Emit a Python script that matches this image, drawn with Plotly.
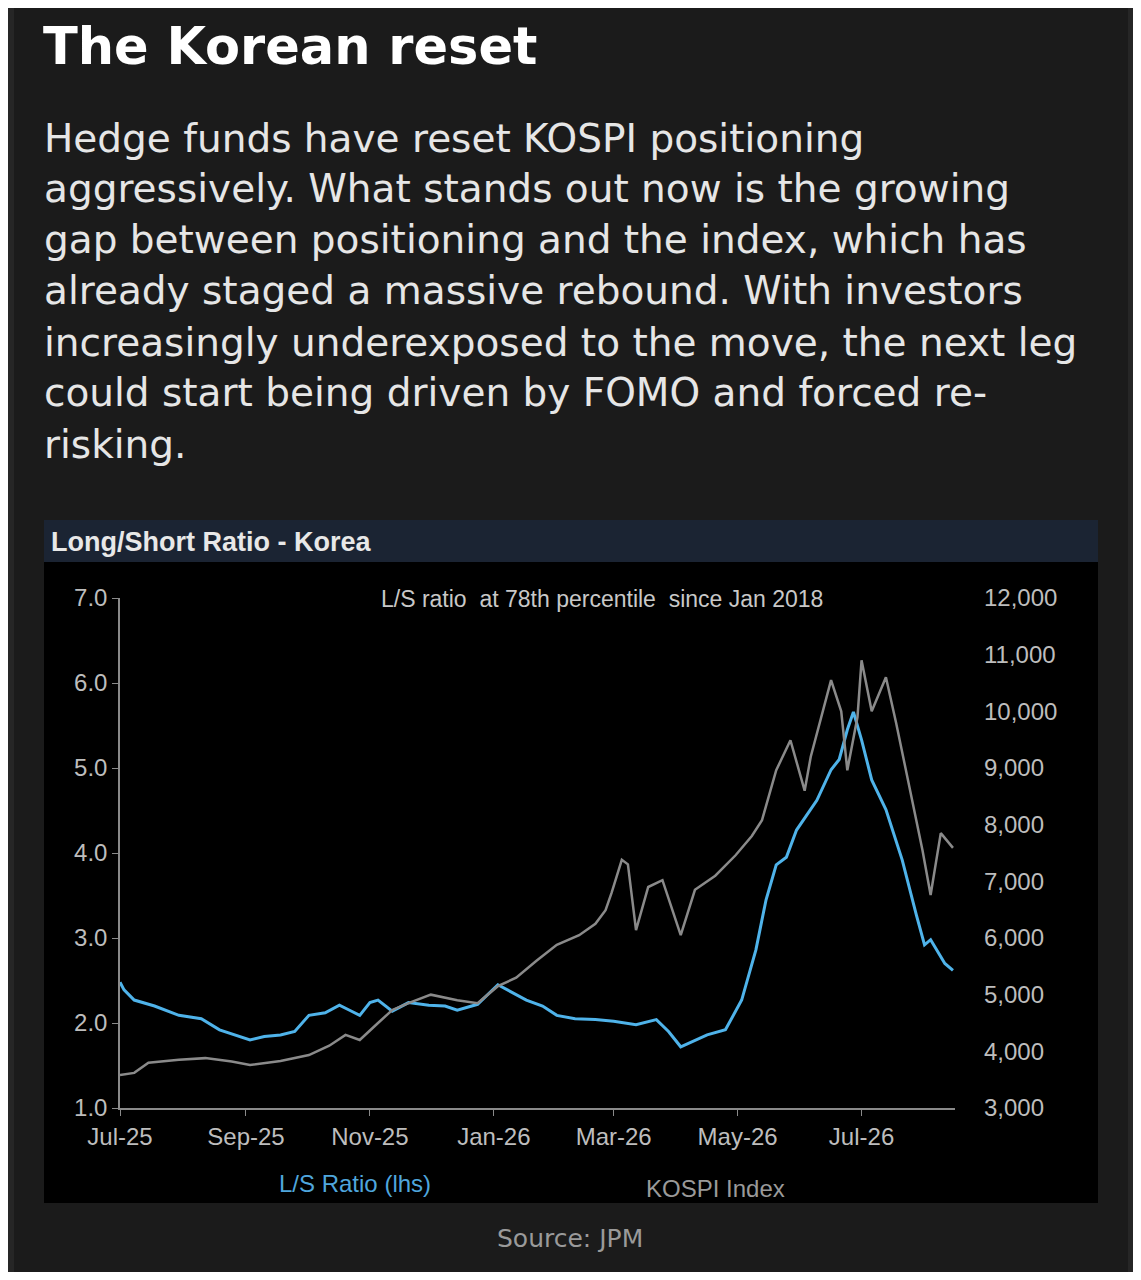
import plotly.graph_objects as go

W, H = 1125, 1264   # page is 1141x1280 with an 8px body margin
OFF = 8

ls_dates = ["2025-07-01","2025-07-03","2025-07-08","2025-07-18","2025-07-30","2025-08-10","2025-08-19","2025-08-27","2025-09-03","2025-09-10","2025-09-18","2025-09-25","2025-10-02","2025-10-10","2025-10-17","2025-10-22","2025-10-27","2025-11-01","2025-11-05","2025-11-12","2025-11-20","2025-11-30","2025-12-08","2025-12-14","2025-12-24","2026-01-03","2026-01-10","2026-01-17","2026-01-25","2026-02-01","2026-02-10","2026-02-20","2026-03-01","2026-03-12","2026-03-22","2026-03-28","2026-04-03","2026-04-10","2026-04-16","2026-04-25","2026-05-03","2026-05-10","2026-05-15","2026-05-20","2026-05-25","2026-05-30","2026-06-04","2026-06-09","2026-06-16","2026-06-20","2026-06-24","2026-06-27","2026-07-01","2026-07-06","2026-07-13","2026-07-21","2026-07-28","2026-08-01","2026-08-04","2026-08-07","2026-08-11","2026-08-15"]
ls_values = [2.48,2.39,2.27,2.20,2.09,2.05,1.92,1.86,1.80,1.84,1.86,1.90,2.09,2.12,2.21,2.15,2.09,2.24,2.27,2.14,2.24,2.21,2.20,2.15,2.22,2.45,2.36,2.27,2.20,2.09,2.05,2.04,2.02,1.98,2.04,1.90,1.72,1.80,1.86,1.92,2.27,2.86,3.45,3.86,3.95,4.27,4.45,4.62,4.98,5.10,5.45,5.66,5.33,4.86,4.51,3.92,3.27,2.92,2.98,2.86,2.70,2.62]

ks_dates = ["2025-07-01","2025-07-08","2025-07-15","2025-07-30","2025-08-12","2025-08-25","2025-09-03","2025-09-18","2025-10-02","2025-10-12","2025-10-20","2025-10-27","2025-11-05","2025-11-12","2025-11-20","2025-12-01","2025-12-14","2025-12-24","2026-01-03","2026-01-12","2026-01-22","2026-02-01","2026-02-12","2026-02-20","2026-02-25","2026-02-28","2026-03-05","2026-03-08","2026-03-12","2026-03-18","2026-03-25","2026-04-03","2026-04-10","2026-04-20","2026-04-30","2026-05-08","2026-05-13","2026-05-20","2026-05-27","2026-06-03","2026-06-06","2026-06-11","2026-06-16","2026-06-21","2026-06-24","2026-06-29","2026-07-01","2026-07-06","2026-07-13","2026-07-18","2026-07-26","2026-07-28","2026-07-31","2026-08-04","2026-08-09","2026-08-15"]
ks_values = [3580,3620,3800,3850,3880,3820,3760,3830,3935,4100,4290,4200,4500,4730,4850,5000,4900,4850,5150,5300,5600,5880,6050,6250,6490,6800,7380,7300,6140,6900,7020,6050,6850,7100,7460,7800,8080,8960,9490,8600,9200,9850,10550,10000,8960,9900,10900,10000,10600,9800,8440,8100,7550,6760,7850,7590]

x_ticks = ["2025-07-01","2025-09-01","2025-11-01","2026-01-01","2026-03-01","2026-05-01","2026-07-01"]
x_labels = ["Jul-25","Sep-25","Nov-25","Jan-26","Mar-26","May-26","Jul-26"]
left_ticks = [1,2,3,4,5,6,7]
right_ticks = [3000,4000,5000,6000,7000,8000,9000,10000,11000,12000]

title = "The Korean reset"
body = ["Hedge funds have reset KOSPI positioning",
        "aggressively. What stands out now is the growing",
        "gap between positioning and the index, which has",
        "already staged a massive rebound. With investors",
        "increasingly underexposed to the move, the next leg",
        "could start being driven by FOMO and forced re-",
        "risking."]

def px(x): return (x - OFF) / W
def py(y): return 1 - (y - OFF) / H

fig = go.Figure()
fig.add_trace(go.Scatter(x=ks_dates, y=ks_values, yaxis="y2", mode="lines",
                         line=dict(color="#8a8a8a", width=2.5), name="KOSPI Index"))
fig.add_trace(go.Scatter(x=ls_dates, y=ls_values, mode="lines",
                         line=dict(color="#4fb3ea", width=3), name="L/S Ratio (lhs)"))

shapes = [
    dict(type="rect", xref="paper", yref="paper", x0=px(8), x1=px(14), y0=0, y1=1, fillcolor="#262626", line_width=0, layer="below"),
    dict(type="rect", xref="paper", yref="paper", x0=px(1128), x1=1, y0=0, y1=1, fillcolor="#262626", line_width=0, layer="below"),
    dict(type="rect", xref="paper", yref="paper", x0=px(44), x1=px(1098), y0=py(1203), y1=py(520), fillcolor="#000000", line_width=0, layer="below"),
    dict(type="rect", xref="paper", yref="paper", x0=px(44), x1=px(1098), y0=py(562), y1=py(520), fillcolor="#1b2433", line_width=0, layer="below"),
]

ann = [dict(text="<b>" + title + "</b>", x=px(41), y=py(46), xref="paper", yref="paper", xanchor="left", yanchor="middle",
            showarrow=False, font=dict(family="DejaVu Sans", size=51, color="#ffffff"))]
for i, line in enumerate(body):
    ann.append(dict(text=line, x=px(42), y=py(138 + i * 51), xref="paper", yref="paper", xanchor="left", yanchor="middle",
                    showarrow=False, font=dict(family="DejaVu Sans", size=39, color="#e6e6e6")))
ann += [
    dict(text="<b>Long/Short Ratio - Korea</b>", x=px(49), y=py(542), xref="paper", yref="paper", xanchor="left", yanchor="middle",
         showarrow=False, font=dict(family="Liberation Sans", size=27, color="#e8e8e8")),
    dict(text="L/S ratio  at 78th percentile  since Jan 2018", x=px(602), y=py(599), xref="paper", yref="paper", xanchor="center", yanchor="middle",
         showarrow=False, font=dict(family="Liberation Sans", size=23, color="#c8c8c8")),
    dict(text="L/S Ratio (lhs)", x=px(355), y=py(1183), xref="paper", yref="paper", xanchor="center", yanchor="middle",
         showarrow=False, font=dict(family="Liberation Sans", size=24, color="#4fa6dd")),
    dict(text="KOSPI Index", x=px(715), y=py(1188), xref="paper", yref="paper", xanchor="center", yanchor="middle",
         showarrow=False, font=dict(family="Liberation Sans", size=24, color="#9a9a9a")),
    dict(text="Source: JPM", x=px(570), y=py(1238), xref="paper", yref="paper", xanchor="center", yanchor="middle",
         showarrow=False, font=dict(family="DejaVu Sans", size=25, color="#9a9a9a")),
]

tf = dict(family="Liberation Sans", size=24, color="#bdbdbd")
fig.update_layout(
    width=W, height=H, margin=dict(l=0, r=0, t=0, b=0, pad=0), autosize=False,
    paper_bgcolor="#1b1b1b", plot_bgcolor="#000000", showlegend=False,
    shapes=shapes, annotations=ann,
    xaxis=dict(domain=[px(120), px(955)], range=["2025-07-01", "2026-08-16"], tickvals=x_ticks, ticktext=x_labels,
               showgrid=False, zeroline=False, showline=True, linecolor="#8a8a8a", linewidth=1.5, automargin=False,
               ticks="outside", ticklen=6, tickcolor="#8a8a8a", tickfont=tf),
    yaxis=dict(domain=[py(1108), py(598)], range=[1, 7], tickvals=left_ticks, tickformat=".1f", automargin=False,
               showgrid=False, zeroline=False, showline=True, linecolor="#8a8a8a", linewidth=1.5,
               ticks="outside", ticklen=6, tickcolor="#8a8a8a", tickfont=tf),
    yaxis2=dict(overlaying="y", side="right", range=[3000, 12000], tickvals=right_ticks, tickformat=",d", automargin=False,
                showgrid=False, zeroline=False, showline=False, ticks="", ticklabelstandoff=28, tickfont=tf),
)

fig.write_html("out.html")
